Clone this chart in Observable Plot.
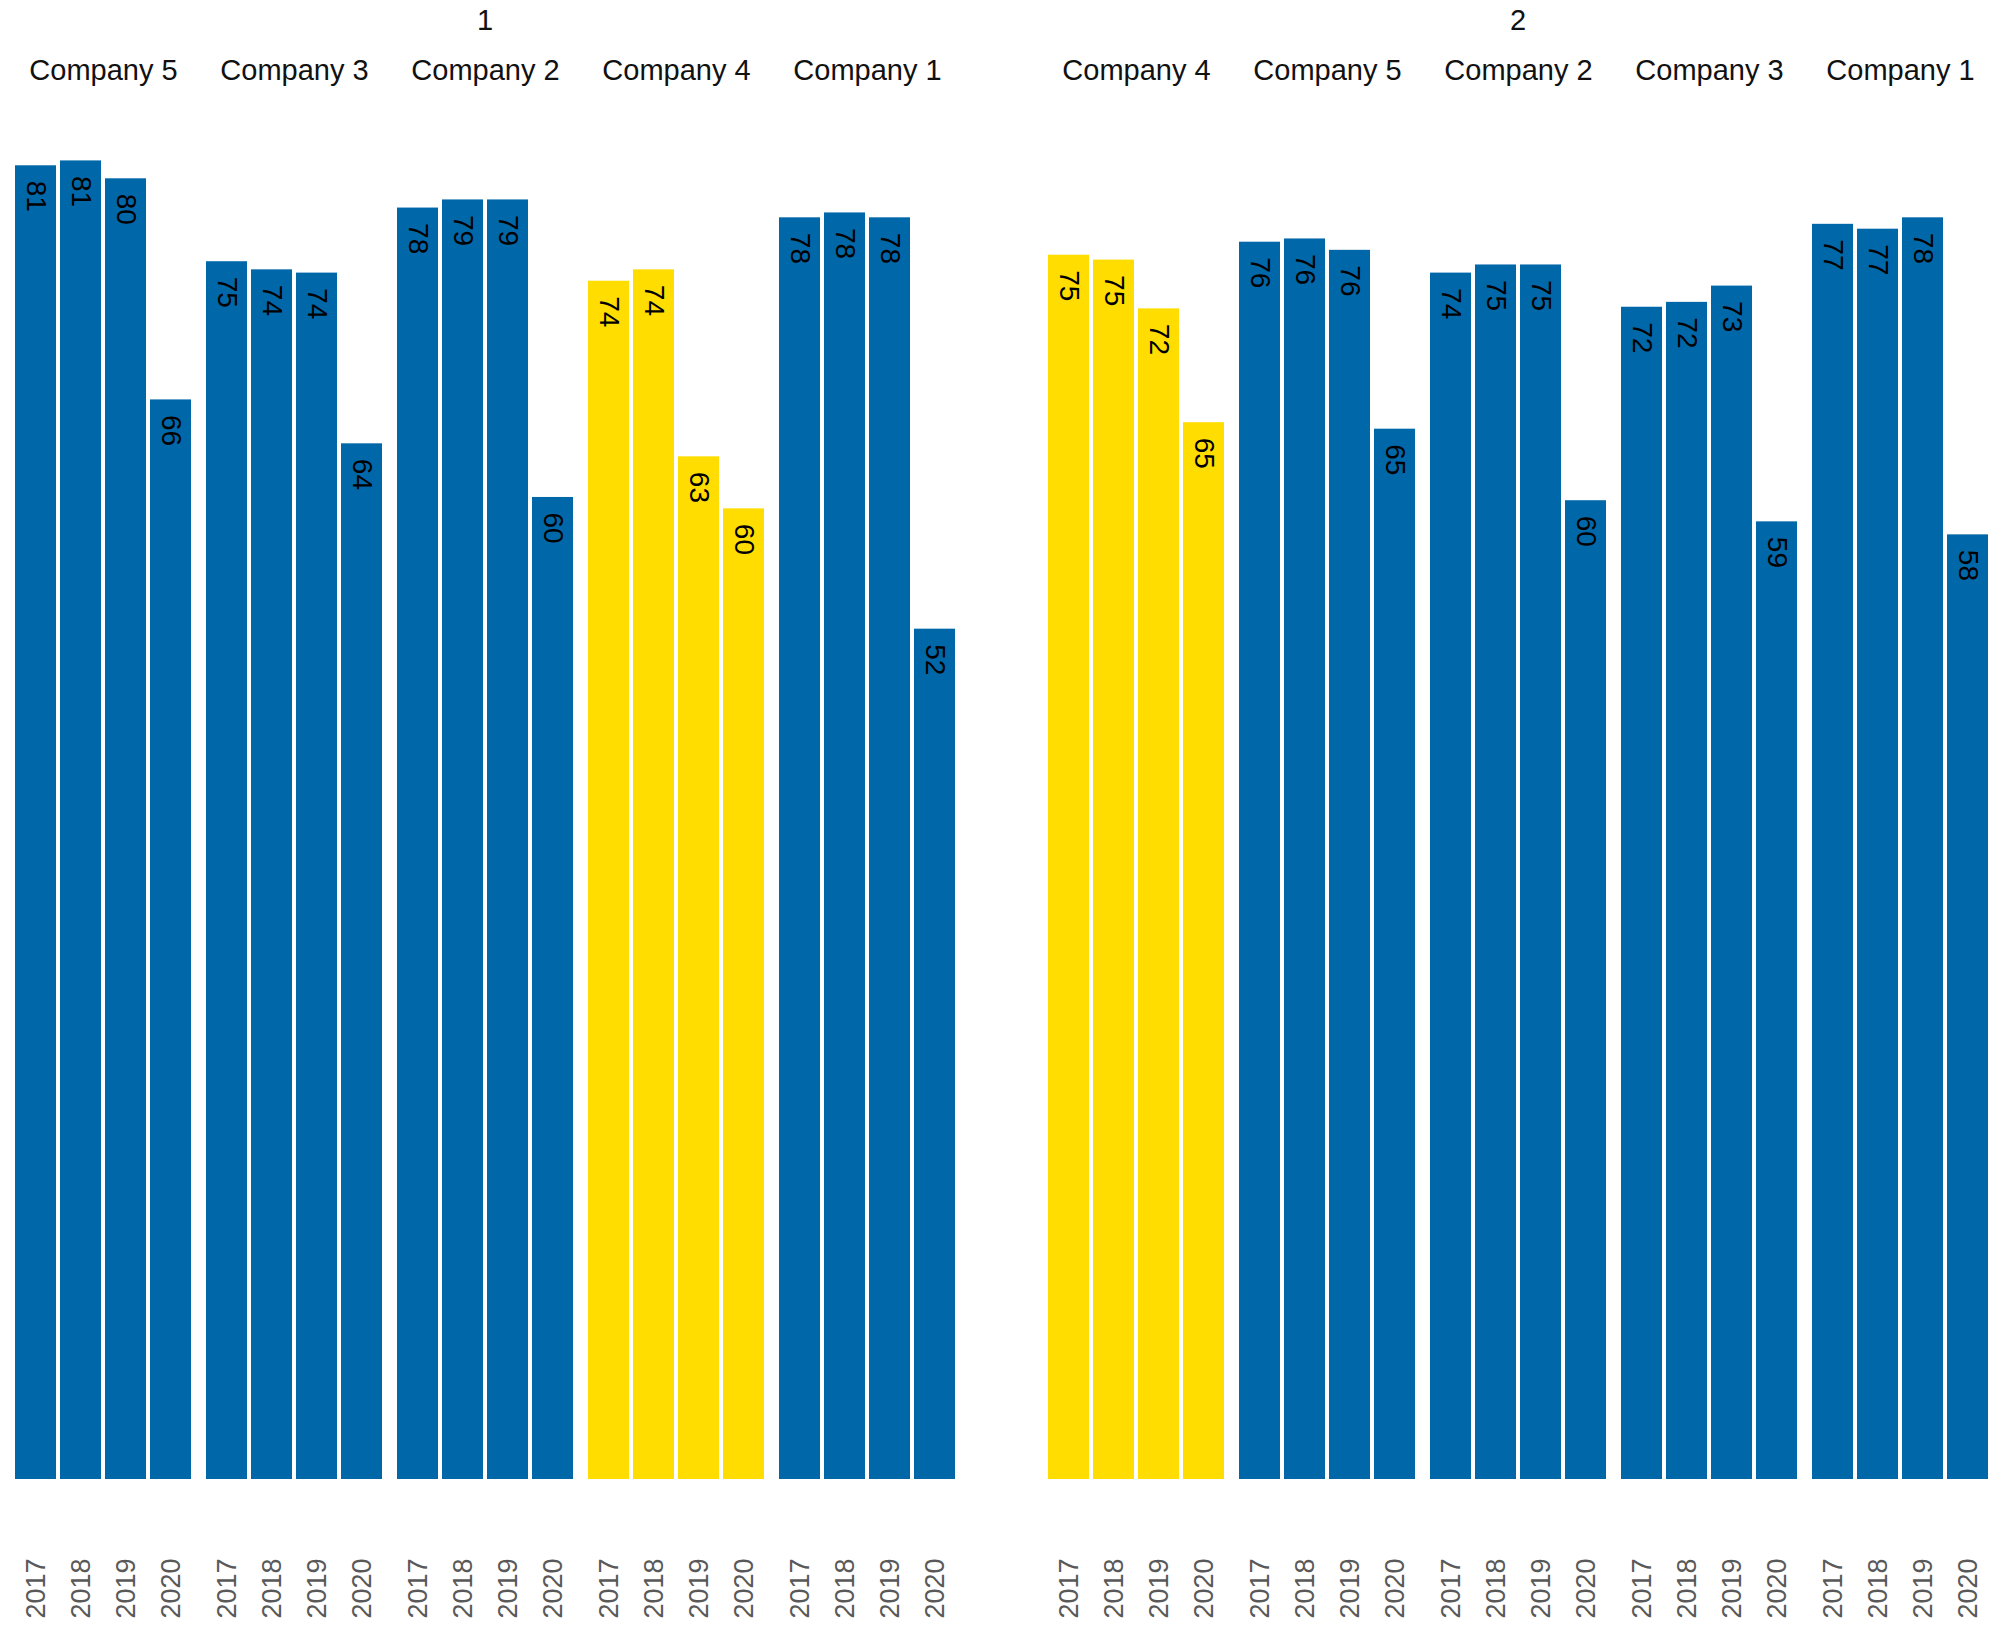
<!DOCTYPE html>
<html>
<head>
<meta charset="utf-8">
<script src="https://cdn.jsdelivr.net/npm/d3@7"></script>
<script src="https://cdn.jsdelivr.net/npm/@observablehq/plot@0.6"></script>
<style>
  html, body { margin: 0; padding: 0; background: #fff; }
  body { width: 1998px; height: 1626px; position: relative; overflow: hidden; font-family: "Liberation Sans", Arial, sans-serif; }
  .panel { position: absolute; top: 0; }
  .ptitle { height: 40px; line-height: 40px; font-size: 29px; text-align: center; color: #111; box-sizing: border-box; }
</style>
</head>
<body>
<div id="p1" class="panel" style="left:0px;width:970px"></div>
<div id="p2" class="panel" style="left:1033px;width:965px"></div>
<script>
const panels = ["1", "2"];
const years = ["2017", "2018", "2019", "2020"];
const highlight = "Company 4";

const panel1Companies = ["Company 5", "Company 3", "Company 2", "Company 4", "Company 1"];
const panel1Values = [
  [80.8, 81.1, 80.0, 66.4],
  [74.9, 74.4, 74.2, 63.7],
  [78.2, 78.7, 78.7, 60.4],
  [73.7, 74.4, 62.9, 59.7],
  [77.6, 77.9, 77.6, 52.3]
];

const panel2Companies = ["Company 4", "Company 5", "Company 2", "Company 3", "Company 1"];
const panel2Values = [
  [75.3, 75.0, 72.0, 65.0],
  [76.1, 76.3, 75.6, 64.6],
  [74.2, 74.7, 74.7, 60.2],
  [72.1, 72.4, 73.4, 58.9],
  [77.2, 76.9, 77.6, 58.1]
];

const blue = "#0067A9";
const yellow = "#FFDD00";

function buildRows(companies, values) {
  const rows = [];
  companies.forEach((c, i) => years.forEach((y, j) => rows.push({company: c, year: y, value: values[i][j]})));
  return rows;
}

function drawPanel(el, title, companies, values, mLeft, mRight, width) {
  const t = document.createElement("div");
  t.className = "ptitle";
  t.style.paddingLeft = mLeft + "px";
  t.style.paddingRight = mRight + "px";
  t.textContent = title;
  el.appendChild(t);
  const rows = buildRows(companies, values);
  const chart = Plot.plot({
    width: width,
    height: 1586,
    marginLeft: mLeft,
    marginRight: mRight,
    marginTop: 57,
    marginBottom: 147,
    style: {fontFamily: "'Liberation Sans', Arial, sans-serif", background: "#fff", color: "#000"},
    fx: {domain: companies, paddingInner: 15 / 191, paddingOuter: 0, label: null, axis: null},
    x: {domain: years, paddingInner: 0.1, paddingOuter: 0, label: null, axis: null},
    y: {domain: [0, 85], axis: null, label: null},
    marks: [
      Plot.barY(rows, {fx: "company", x: "year", y: "value", fill: d => d.company === highlight ? yellow : blue}),
      Plot.text(rows, {fx: "company", x: "year", y: "value", text: d => String(Math.round(d.value)), rotate: 90, textAnchor: "start", dy: 15, fontSize: 28, fill: "#000"}),
      Plot.axisFx({anchor: "top", tickSize: 0, tickPadding: 18, fontSize: 29, color: "#111", label: null}),
      Plot.axisX({anchor: "bottom", tickRotate: -90, tickSize: 0, tickPadding: 79, fontSize: 27, color: "#595959", label: null})
    ]
  });
  el.appendChild(chart);
}

drawPanel(document.getElementById("p1"), panels[0], panel1Companies, panel1Values, 15, 15, 970);
drawPanel(document.getElementById("p2"), panels[1], panel2Companies, panel2Values, 15, 10, 965);
</script>
</body>
</html>
